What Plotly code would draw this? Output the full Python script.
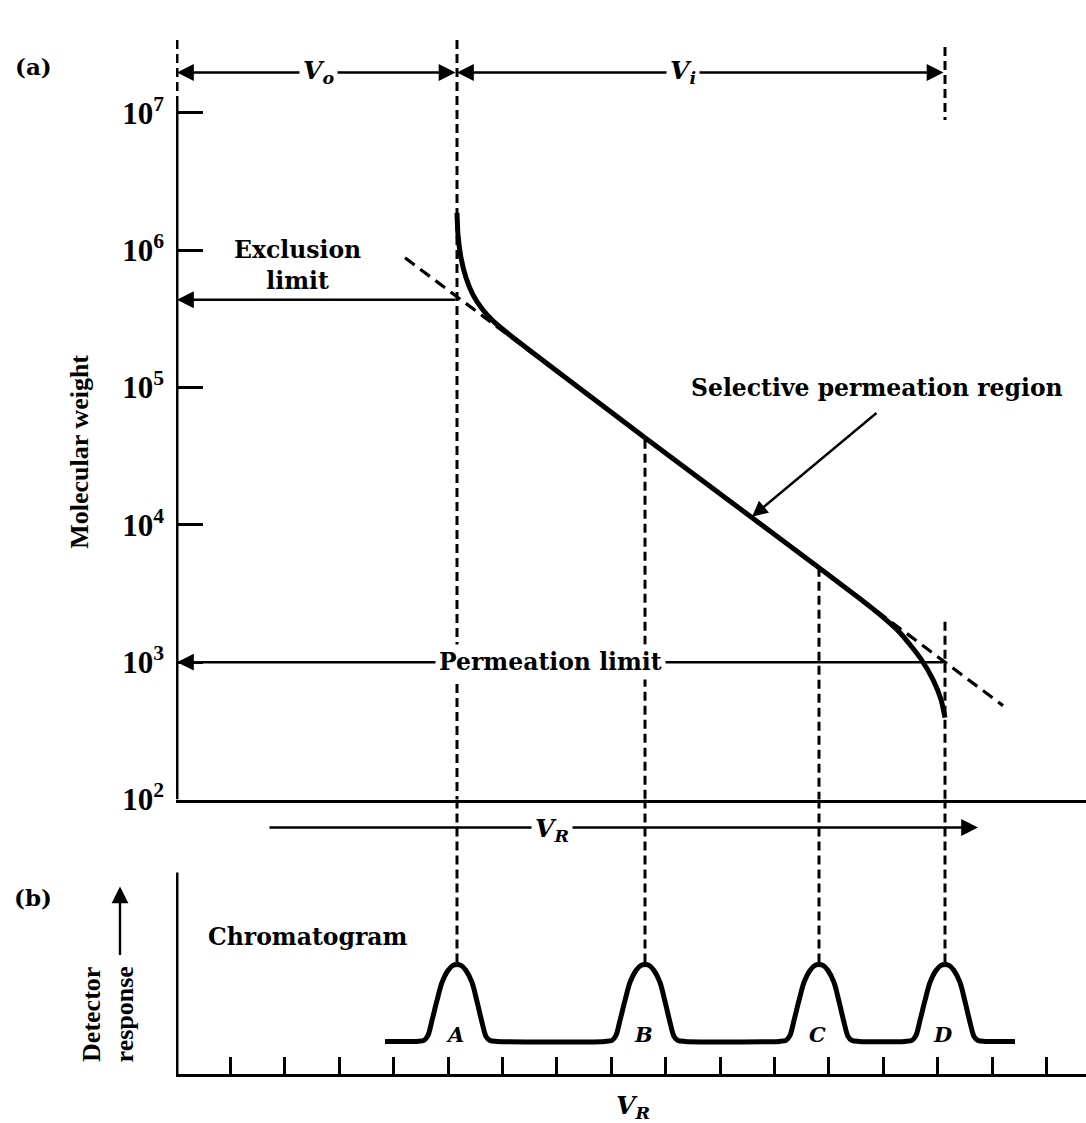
import numpy as np
import plotly.graph_objects as go

# ---------------- data ----------------
# retention volume V_R in arbitrary units; molecular weight on log scale
curve_vr = [28.0, 28.1, 28.4, 28.9, 29.6, 30.5, 31.6, 33.0, 46.8, 64.2, 68.3, 70.3, 72.3, 74.3, 75.6, 76.4, 76.8]
curve_mw = [1.87e6, 1.29e6, 8.81e5, 6.30e5, 4.73e5, 3.75e5, 3.06e5, 2.51e5, 4.32e4, 4.88e3, 2.90e3,
            2.22e3, 1.64e3, 1.08e3, 747, 535, 395]
extrap_vr = [22.8, 82.6]
extrap_mw = [8.81e5, 483]

peak_labels = ["A", "B", "C", "D"]
peak_vr = [28.0, 46.8, 64.2, 76.8]
guide_top_mw = [3.40e7, 4.17e4, 4.88e3, 1.97e3]   # where the dashed drop lines start in (a)
d_top_segment_mw = [3.02e7, 8.9e6]                # short dashed segment above D

exclusion_mw = 4.36e5
permeation_mw = 1.0e3
v_arrow_mw = 1.97e7

mw_ticks = [1e2, 1e3, 1e4, 1e5, 1e6, 1e7]
mw_ticktext = ["10<sup>2</sup>", "10<sup>3</sup>", "10<sup>4</sup>", "10<sup>5</sup>",
               "10<sup>6</sup>", "10<sup>7</sup>"]

# chromatogram: one peak profile (offset, height) and baseline ends
peak_dx = [-4.0, -3.3, -2.9, -2.5, -2.0, -1.5, -0.9, -0.4, 0.0, 0.4, 0.9, 1.5, 2.0, 2.5, 2.9, 3.3, 4.0]
peak_h = [0, 1, 6, 21, 41, 59, 71, 76, 77, 76, 71, 59, 40, 19, 5, 1, 0]
baseline_start, baseline_end = 20.8, 83.8
chrom_ticks = [5.3, 10.7, 16.2, 21.6, 27.1, 32.5, 37.9, 43.4, 48.8, 54.3, 59.7, 65.1, 70.6, 76.0, 81.5, 86.9]
vr_arrow_b = [9.1, 80.1]

# ---------------- layout helpers ----------------
REF_H = 1123
YK = 1.003
W, H = 1086, 1137
ML = 176
PW = W - ML


def px(xp):
    return (xp - ML) / PW


def py(yp):
    return 1 - yp * YK / REF_H


XR = [-0.1, 90.9]
BLACK = "black"
SERIF_B = dict(family="DejaVu Serif", size=23.5, color=BLACK, weight="bold")
TIMES_B = dict(family="Liberation Serif", size=26, color=BLACK, weight="bold")
DASH = "9px,5px"
GW = 3

fig = go.Figure()

# ---- panel (a) ----
fig.add_trace(go.Scatter(x=[0, 0], y=[1.24e7, 1e2], mode="lines",
                         line=dict(color=BLACK, width=3), xaxis="x", yaxis="y", hoverinfo="skip"))
fig.add_trace(go.Scatter(x=[0, 0], y=[3.40e7, 1.24e7], mode="lines",
                         line=dict(color=BLACK, width=GW, dash=DASH), xaxis="x", yaxis="y", hoverinfo="skip"))
for vr, top in zip(peak_vr, guide_top_mw):
    fig.add_trace(go.Scatter(x=[vr, vr], y=[top, 1e2], mode="lines",
                             line=dict(color=BLACK, width=GW, dash=DASH), xaxis="x", yaxis="y", hoverinfo="skip"))
fig.add_trace(go.Scatter(x=[peak_vr[3], peak_vr[3]], y=d_top_segment_mw, mode="lines",
                         line=dict(color=BLACK, width=GW, dash=DASH), xaxis="x", yaxis="y", hoverinfo="skip"))
fig.add_trace(go.Scatter(x=extrap_vr, y=extrap_mw, mode="lines",
                         line=dict(color=BLACK, width=3.2, dash="12px,7px"), xaxis="x", yaxis="y", hoverinfo="skip"))
fig.add_trace(go.Scatter(x=curve_vr, y=curve_mw, mode="lines",
                         line=dict(color=BLACK, width=5, shape="spline", smoothing=0.6),
                         xaxis="x", yaxis="y", hoverinfo="skip"))

# ---- panel (b) ----
fig.add_trace(go.Scatter(x=[0, 0], y=[-33, 169], mode="lines",
                         line=dict(color=BLACK, width=3), xaxis="x2", yaxis="y2", hoverinfo="skip"))
for vr in peak_vr:
    fig.add_trace(go.Scatter(x=[vr, vr], y=[242, peak_h[8]], mode="lines",
                             line=dict(color=BLACK, width=GW, dash=DASH), xaxis="x2", yaxis="y2", hoverinfo="skip"))
chrom_x = [baseline_start]
chrom_y = [0]
for c in peak_vr:
    chrom_x += [c + d for d in peak_dx]
    chrom_y += list(peak_h)
chrom_x.append(baseline_end)
chrom_y.append(0)
fig.add_trace(go.Scatter(x=chrom_x, y=chrom_y, mode="lines",
                         line=dict(color=BLACK, width=5, shape="spline", smoothing=0.8),
                         xaxis="x2", yaxis="y2", hoverinfo="skip"))

ann = []


def arrow(xh, yh, xt, yt, xref, yref, both=False, width=2.4, size=1.4):
    d = dict(x=xh, y=yh, ax=xt, ay=yt, xref=xref, yref=yref, axref=xref, ayref=yref,
             text="", showarrow=True, arrowhead=2, arrowsize=size, arrowwidth=width,
             arrowcolor=BLACK, standoff=0, startstandoff=0)
    if both:
        d.update(arrowside="end+start", startarrowhead=2, startarrowsize=size)
    ann.append(d)


lg = np.log10
arrow(0, lg(v_arrow_mw), peak_vr[0], lg(v_arrow_mw), "x", "y", both=True)
arrow(peak_vr[0], lg(v_arrow_mw), peak_vr[3], lg(v_arrow_mw), "x", "y", both=True)
arrow(0, lg(exclusion_mw), peak_vr[0], lg(exclusion_mw), "x", "y")
arrow(0, lg(permeation_mw), peak_vr[3], lg(permeation_mw), "x", "y")
arrow(57.5, 4.06, 70.1, 4.824, "x", "y", width=2.4, size=1.3)
arrow(vr_arrow_b[1], 214, vr_arrow_b[0], 214, "x2", "y2")
ann.append(dict(x=px(120), y=py(887), xref="paper", yref="paper", ax=0, ay=70,
                text="", showarrow=True, arrowhead=2, arrowsize=1.4, arrowwidth=2.4, arrowcolor=BLACK))


def label(text, x, y, xref, yref, font, bg=None, angle=0, xanchor="center"):
    d = dict(text=text, x=x, y=y, xref=xref, yref=yref, showarrow=False, font=font,
             textangle=angle, xanchor=xanchor, yanchor="middle", borderpad=3)
    if bg:
        d["bgcolor"] = bg
    ann.append(d)


VFONT = dict(family="DejaVu Serif", size=25, color=BLACK, weight="bold", style="italic")
label("V<sub>o</sub>", 14.1, lg(v_arrow_mw), "x", "y", VFONT, bg="white")
label("V<sub>i</sub>", 50.6, lg(v_arrow_mw), "x", "y", VFONT, bg="white")
label("Exclusion<br>limit", 12.0, 5.886, "x", "y", SERIF_B)
label("Permeation limit", 37.3, 3.0, "x", "y", SERIF_B, bg="white")
label("Selective permeation region", 70.0, 5.0, "x", "y", SERIF_B)
label("V<sub>R</sub>", 37.5, 212, "x2", "y2", VFONT, bg="white")
label("Chromatogram", 13.1, 104, "x2", "y2", SERIF_B)
PFONT = dict(family="DejaVu Serif", size=21, color=BLACK, weight="bold", style="italic")
for name, vr in zip(peak_labels, peak_vr):
    label(name, vr - 0.2, 7, "x2", "y2", PFONT)
label("V<sub>R</sub>", 45.6, py(1108), "x2", "paper", VFONT)
ABF = dict(family="DejaVu Serif", size=23, color=BLACK, weight="bold")
label("(a)", px(33), py(67), "paper", "paper", ABF)
label("(b)", px(33), py(898), "paper", "paper", ABF)
label("Molecular weight", px(80), py(452), "paper", "paper", TIMES_B, angle=-90)
label("Detector<br>response", px(108), py(1015), "paper", "paper", TIMES_B, angle=-90)

fig.update_layout(
    width=W, height=H, margin=dict(l=ML, r=0, t=0, b=0),
    paper_bgcolor="white", plot_bgcolor="white", showlegend=False,
    xaxis=dict(domain=[0, 1], range=XR, anchor="y", showline=True, linecolor=BLACK, linewidth=3,
               showticklabels=False, ticks="", showgrid=False, zeroline=False),
    yaxis=dict(domain=[py(800), py(40)], type="log", range=[2, 7.5313], anchor="free", position=1 / PW,
               showline=False, tickvals=mw_ticks, ticktext=mw_ticktext, ticks="inside", ticklen=25,
               tickwidth=3, tickcolor=BLACK, showgrid=False, zeroline=False,
               tickfont=dict(family="Liberation Serif", size=31, color=BLACK, weight="bold"),
               ticklabelstandoff=13),
    xaxis2=dict(domain=[0, 1], range=XR, anchor="y2", showline=True, linecolor=BLACK, linewidth=3,
                tickvals=chrom_ticks, ticks="inside", ticklen=17, tickwidth=3, tickcolor=BLACK,
                showticklabels=False, showgrid=False, zeroline=False),
    yaxis2=dict(domain=[py(1075), py(800)], range=[-33, 242], anchor="free", position=1 / PW,
                showline=False, showticklabels=False, ticks="", showgrid=False, zeroline=False),
    annotations=ann,
)

fig.write_html("out.html")
